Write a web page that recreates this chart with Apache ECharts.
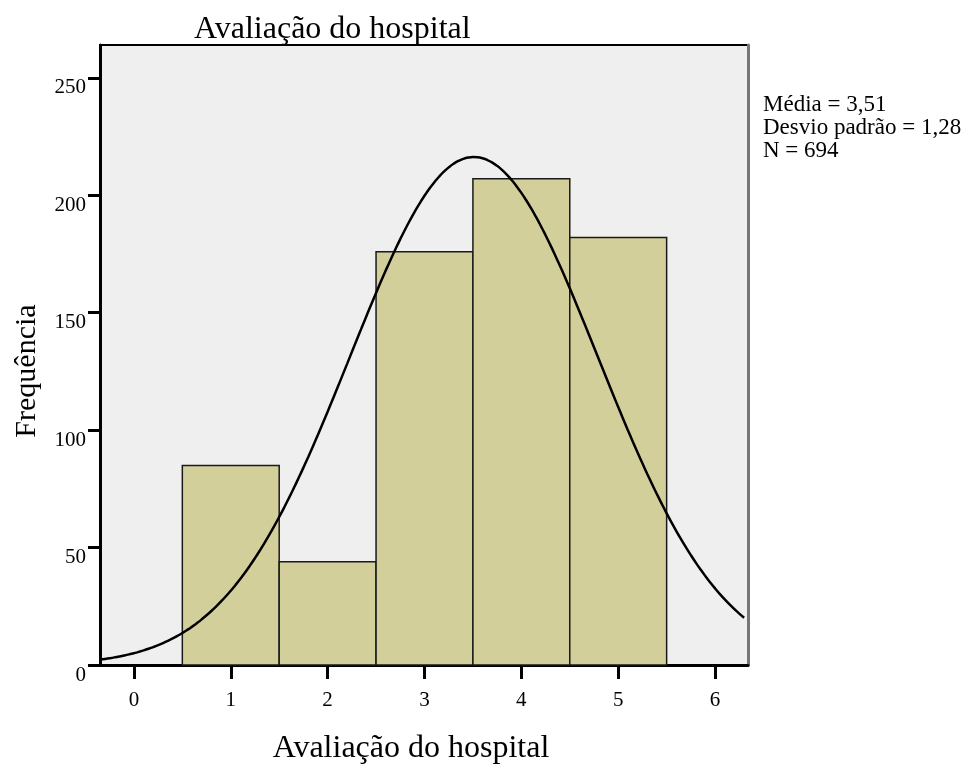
<!DOCTYPE html>
<html>
<head>
<meta charset="utf-8">
<script src="https://cdn.jsdelivr.net/npm/echarts@6/dist/echarts.min.js"></script>
<style>
  html, body { margin: 0; padding: 0; background: #fff; }
  #chart { width: 973px; height: 770px; }
</style>
</head>
<body>
<div id="chart"></div>
<script>
// dados do histograma
const binCenters = [1, 2, 3, 4, 5]
const frequencies = [85, 44, 176, 207, 182]
const xTicks = [0, 1, 2, 3, 4, 5, 6]
const yTicks = [0, 50, 100, 150, 200, 250]
// estatísticas mostradas na legenda
const media = 3.51
const desvio = 1.28
const total = 694
const binWidth = 1

const xMin = -0.35
const xMax = 6.34

// curva normal ajustada (mesmos parâmetros da legenda)
const curve = []
for (let x = xMin; x <= xMax + 1e-9; x += 0.05) {
  const z = (x - media) / desvio
  curve.push([x, total * binWidth / (desvio * Math.sqrt(2 * Math.PI)) * Math.exp(-0.5 * z * z)])
}

const serif = '"Liberation Serif", "DejaVu Serif", serif'
const chart = echarts.init(document.getElementById('chart'))

chart.setOption({
  animation: false,
  backgroundColor: '#ffffff',
  title: {
    text: 'Avaliação do hospital',
    left: 189,
    top: 9,
    textStyle: { fontFamily: serif, fontSize: 32, fontWeight: 'normal', color: '#000' }
  },
  grid: {
    left: 100, right: 225, top: 45, bottom: 102,
    show: true,
    backgroundColor: '#efefef',
    borderColor: '#000',
    borderWidth: 2
  },
  xAxis: {
    type: 'value',
    min: xMin,
    max: xMax,
    name: 'Avaliação do hospital',
    nameLocation: 'middle',
    nameGap: 68,
    nameTextStyle: { fontFamily: serif, fontSize: 32, color: '#000', padding: [0, 26, 0, 0] },
    splitLine: { show: false },
    axisLine: { onZero: false, lineStyle: { color: '#000', width: 3 } },
    axisTick: { customValues: xTicks, length: 14, lineStyle: { color: '#000', width: 3 } },
    axisLabel: { customValues: xTicks, margin: 25, fontFamily: serif, fontSize: 21, color: '#000' }
  },
  yAxis: [{
    type: 'value',
    min: 0,
    max: 264,
    name: 'Frequência',
    nameLocation: 'middle',
    nameGap: 58,
    nameTextStyle: { fontFamily: serif, fontSize: 30, color: '#000', padding: [0, 32, 0, 0] },
    splitLine: { show: false },
    axisLine: { show: true, onZero: false, lineStyle: { color: '#000', width: 3 } },
    axisTick: { customValues: yTicks, length: 12, lineStyle: { color: '#000', width: 3 } },
    axisLabel: {
      customValues: yTicks,
      margin: 14,
      formatter: v => '{n|' + v + '}',
      rich: {
        n: { fontFamily: serif, fontSize: 21, color: '#000', padding: [20, 0, 0, 0] }
      }
    }
  }, {
    type: 'value',
    position: 'right',
    min: 0,
    max: 264,
    splitLine: { show: false },
    axisLine: { show: true, onZero: false, lineStyle: { color: '#777', width: 3 } },
    axisTick: { show: false },
    axisLabel: { show: false }
  }],
  graphic: [{
    type: 'text',
    left: 763,
    top: 93,
    style: {
      text: 'Média = ' + media.toFixed(2).replace('.', ',') +
        '\nDesvio padrão = ' + desvio.toFixed(2).replace('.', ',') +
        '\nN = ' + total,
      font: '23px ' + serif,
      lineHeight: 23,
      fill: '#000'
    }
  }],
  series: [{
    type: 'custom',
    data: binCenters.map((c, i) => [c, frequencies[i]]),
    renderItem: (params, api) => {
      const c = api.value(0)
      const tl = api.coord([c - binWidth / 2, api.value(1)])
      const br = api.coord([c + binWidth / 2, 0])
      return {
        type: 'rect',
        shape: { x: tl[0], y: tl[1], width: br[0] - tl[0], height: br[1] - tl[1] },
        style: { fill: '#d3cf9a', stroke: '#1a1a1a', lineWidth: 1.5 }
      }
    },
    z: 2
  }, {
    type: 'line',
    data: curve,
    showSymbol: false,
    smooth: true,
    clip: true,
    lineStyle: { color: '#000', width: 2.5 },
    z: 3
  }]
})
</script>
</body>
</html>
